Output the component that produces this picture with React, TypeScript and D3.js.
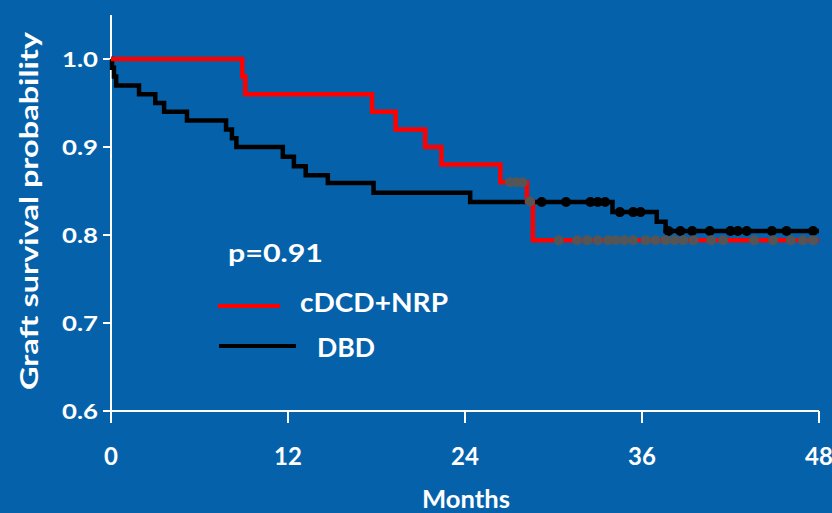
import React from 'react';
import * as d3 from 'd3';

const W = 832;
const H = 513;

const xTicks = [0, 12, 24, 36, 48];
const yTicks = [0.6, 0.7, 0.8, 0.9, 1.0];

// cDCD+NRP step function (months, survival)
const redTimes = [0, 8.9, 9.1, 17.7, 19.3, 21.3, 22.4, 26.4, 28.2, 28.6];
const redSurv = [1.0, 0.98, 0.96, 0.94, 0.92, 0.90, 0.88, 0.86, 0.838, 0.794];
const redCensor = [27.05, 27.5, 27.9, 28.4, 30.35, 31.6, 32.3, 33.0, 33.7, 34.2, 34.8, 35.4, 36.25, 36.9, 37.6, 38.2, 38.8, 39.5, 40.7, 41.5, 43.6, 44.9, 46.1, 46.9, 47.6];

// DBD step function
const blackTimes = [0, 0.07, 0.2, 0.35, 1.9, 3.0, 3.6, 5.15, 7.8, 8.2, 8.5, 11.65, 12.4, 13.2, 14.7, 17.8, 24.35, 34.0, 37.0, 37.6];
const blackSurv = [1.0, 0.99, 0.98, 0.97, 0.96, 0.95, 0.94, 0.93, 0.92, 0.91, 0.90, 0.889, 0.878, 0.868, 0.859, 0.848, 0.8375, 0.826, 0.815, 0.8045];
const blackCensor = [29.2, 30.85, 32.5, 33.0, 33.5, 34.5, 35.4, 35.9, 37.8, 38.6, 39.4, 40.6, 42.0, 42.5, 43.1, 44.8, 45.8, 47.6];

const END = 48;
const BG = '#0562AA';
const FONT = 'Lato, "Open Sans", sans-serif';

function survAt(times: number[], surv: number[], t: number) {
  let s = surv[0];
  for (let i = 0; i < times.length; i++) if (times[i] <= t) s = surv[i];
  return s;
}

export default function App() {
  const x = d3.scaleLinear().domain([0, 48]).range([111, 819]);
  const y = d3.scaleLinear().domain([0.6, 1.05]).range([411, 15]);
  const line = d3
    .line<[number, number]>()
    .x((d) => x(d[0]))
    .y((d) => y(d[1]))
    .curve(d3.curveStepAfter);

  const redPts: [number, number][] = redTimes.map((t, i) => [t, redSurv[i]] as [number, number]);
  redPts.push([END, redSurv[redSurv.length - 1]]);
  const blackPts: [number, number][] = blackTimes.map((t, i) => [t, blackSurv[i]] as [number, number]);
  blackPts.push([END, blackSurv[blackSurv.length - 1]]);

  return (
    <svg width={W} height={H} style={{ position: 'absolute', left: 0, top: 0 }} fontFamily={FONT}>
      <rect x={0} y={0} width={W} height={H} fill={BG} />
      {/* axes */}
      <line x1={x(0)} x2={x(0)} y1={y(1.05)} y2={y(0.6)} stroke="#fff" strokeWidth={2} />
      <line x1={x(0)} x2={x(48)} y1={y(0.6)} y2={y(0.6)} stroke="#fff" strokeWidth={2} />
      {yTicks.map((t) => (
        <g key={t}>
          <line x1={x(0) - 8} x2={x(0)} y1={y(t)} y2={y(t)} stroke="#fff" strokeWidth={2} />
          <text x={98} y={y(t) + 7.5} textAnchor="end" fill="#fff" fontWeight="bold" fontSize={21} textLength={36} lengthAdjust="spacingAndGlyphs">
            {d3.format('.1f')(t)}
          </text>
        </g>
      ))}
      {xTicks.map((t) => (
        <g key={t}>
          <line x1={x(t)} x2={x(t)} y1={y(0.6)} y2={y(0.6) + 12} stroke="#fff" strokeWidth={2} />
          <text x={x(t)} y={465} textAnchor="middle" fill="#fff" fontWeight="bold" fontSize={24}>
            {t}
          </text>
        </g>
      ))}
      <text x={466} y={508} textAnchor="middle" fill="#fff" fontWeight="bold" fontSize={24} textLength={88} lengthAdjust="spacingAndGlyphs">
        Months
      </text>
      <text
        transform="translate(38,211) rotate(-90)"
        textAnchor="middle"
        fill="#fff"
        fontWeight="bold"
        fontSize={24}
        textLength={358}
        lengthAdjust="spacingAndGlyphs"
      >
        Graft survival probability
      </text>

      {/* curves */}
      <path d={line(blackPts) || ''} fill="none" stroke="#000" strokeWidth={4.5} />
      <path d={line(redPts) || ''} fill="none" stroke="#FF0000" strokeWidth={4.5} />
      {blackCensor.map((t, i) => (
        <circle key={'b' + i} cx={x(t)} cy={y(survAt(blackTimes, blackSurv, t))} r={5} fill="#000" />
      ))}
      {redCensor.map((t, i) => (
        <circle key={'r' + i} cx={x(t)} cy={y(survAt(redTimes, redSurv, t))} r={5} fill="#555555" />
      ))}

      {/* legend */}
      <text x={228} y={262} fill="#fff" fontWeight="bold" fontSize={24} textLength={95} lengthAdjust="spacingAndGlyphs">
        p=0.91
      </text>
      <line x1={218} x2={280} y1={306} y2={306} stroke="#FF0000" strokeWidth={4} />
      <text x={300} y={312} fill="#fff" fontWeight="bold" fontSize={26} textLength={148} lengthAdjust="spacingAndGlyphs">
        cDCD+NRP
      </text>
      <line x1={219} x2={296} y1={346} y2={346} stroke="#000" strokeWidth={4} />
      <text x={317} y={357} fill="#fff" fontWeight="bold" fontSize={26} textLength={58} lengthAdjust="spacingAndGlyphs">
        DBD
      </text>
    </svg>
  );
}
